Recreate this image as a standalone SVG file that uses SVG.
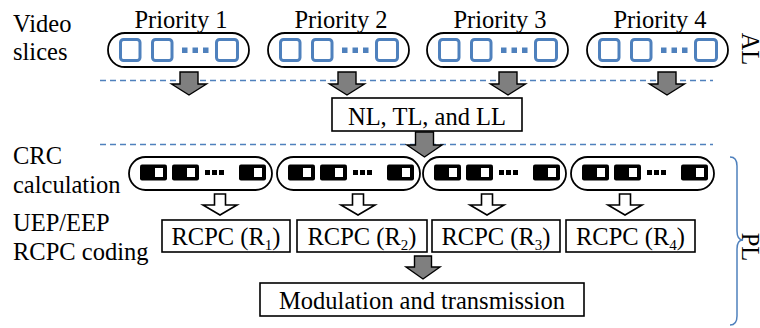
<svg xmlns="http://www.w3.org/2000/svg" width="760" height="328" viewBox="0 0 760 328" font-family="Liberation Serif, Times New Roman, serif" font-size="24.5">
<defs>
<style>
text{font-family:'Liberation Serif','Times New Roman',serif;font-size:24.5px;fill:#000}
.c{text-anchor:middle}
.cap{fill:#fff;stroke:#000;stroke-width:1.8}
.bsq{fill:none;stroke:#4f81bd;stroke-width:3}
.bdot{fill:#4f81bd}
.box{fill:#fff;stroke:#000;stroke-width:1.6}
.dash{stroke:#4f81bd;stroke-width:1.4;stroke-dasharray:6 4;fill:none}
.garrow{fill:#7f7f7f;stroke:#000;stroke-width:1.4;stroke-linejoin:miter}
.warrow{fill:#fff;stroke:#000;stroke-width:1.6}
.blk{fill:#000}
.win{fill:#fff}
.brace{fill:none;stroke:#4f81bd;stroke-width:1.5}
.sub{font-size:15px}
</style>
<g id="slice">
<rect class="cap" x="0" y="0" width="141" height="34" rx="17"/>
<rect class="bsq" x="12.5" y="6.5" width="19.5" height="21" rx="3"/>
<rect class="bsq" x="44.5" y="6.5" width="19.5" height="21" rx="3"/>
<rect class="bdot" x="74" y="14.5" width="5.5" height="5.5"/>
<rect class="bdot" x="84.5" y="14.5" width="5.5" height="5.5"/>
<rect class="bdot" x="95" y="14.5" width="5.5" height="5.5"/>
<rect class="bsq" x="108.5" y="6.5" width="21" height="21" rx="3"/>
</g>
<g id="crc">
<rect class="cap" x="0" y="0" width="143" height="33" rx="16.5"/>
<rect class="blk" x="11" y="7.5" width="27" height="16" rx="2"/>
<rect class="win" x="26" y="11" width="8" height="9"/>
<rect class="blk" x="43" y="7.5" width="27" height="16" rx="2"/>
<rect class="win" x="58" y="11" width="8" height="9"/>
<rect class="blk" x="76" y="13" width="5" height="5"/>
<rect class="blk" x="83" y="13" width="5" height="5"/>
<rect class="blk" x="90" y="13" width="5" height="5"/>
<rect class="blk" x="110" y="7.5" width="27" height="16" rx="2"/>
<rect class="win" x="125" y="11" width="8" height="9"/>
</g>
</defs>

<g id="labels">
<text x="13" y="32">Video</text>
<text x="13" y="60">slices</text>
<text x="13" y="164">CRC</text>
<text x="13" y="193">calculation</text>
<text x="13" y="231">UEP/EEP</text>
<text x="13" y="260">RCPC coding</text>
<text class="c" text-anchor="middle" transform="translate(742,49) rotate(90)">AL</text>
<text class="c" text-anchor="middle" transform="translate(742,247) rotate(90)">PL</text>
</g>

<g id="connectors">
<line class="dash" x1="100" y1="80.5" x2="713" y2="80.5"/>
<line class="dash" x1="100" y1="144.5" x2="713" y2="144.5"/>
<path class="garrow" d="M180,72 h18 v12 h8.5 L189,95 L171.5,84 h8.5 z"/>
<path class="garrow" d="M338,72 h18 v12 h8.5 L347,95 L329.5,84 h8.5 z"/>
<path class="garrow" d="M499,72 h18 v12 h8.5 L508,95 L490.5,84 h8.5 z"/>
<path class="garrow" d="M658,72 h18 v12 h8.5 L667,95 L649.5,84 h8.5 z"/>
<path class="garrow" d="M415.5,132 h18 v13 h8.5 L424.5,157 L407,145 h8.5 z"/>
<path class="warrow" d="M214.5,194 h11 v11 h11.5 L220,215 L203,205 h11.5 z"/>
<path class="warrow" d="M352.5,194 h11 v11 h11.5 L358,215 L341,205 h11.5 z"/>
<path class="warrow" d="M481.5,194 h11 v11 h11.5 L487,215 L470,205 h11.5 z"/>
<path class="warrow" d="M619.5,194 h11 v11 h11.5 L625,215 L608,205 h11.5 z"/>
<path class="garrow" d="M414.5,256 h17 v11 h8.5 L423,279 L406,267 h8.5 z"/>
<path class="brace" d="M730,157 Q737,157 737,166 L737,231 Q737,240 743,240 Q737,240 737,249 L737,316 Q737,325 730,325"/>
</g>

<g id="priority1"><use href="#slice" x="108" y="33"/><text class="c" text-anchor="middle" x="181" y="28">Priority 1</text></g>
<g id="priority2"><use href="#slice" x="268" y="33"/><text class="c" text-anchor="middle" x="341" y="28">Priority 2</text></g>
<g id="priority3"><use href="#slice" x="427" y="33"/><text class="c" text-anchor="middle" x="500" y="28">Priority 3</text></g>
<g id="priority4"><use href="#slice" x="587" y="33"/><text class="c" text-anchor="middle" x="660" y="28">Priority 4</text></g>

<g id="nltlll"><rect class="box" x="332" y="98" width="190" height="33"/><text class="c" text-anchor="middle" x="427" y="125">NL, TL, and LL</text></g>

<g id="crc1"><use href="#crc" x="129" y="157"/></g>
<g id="crc2"><use href="#crc" x="277" y="157"/></g>
<g id="crc3"><use href="#crc" x="423" y="157"/></g>
<g id="crc4"><use href="#crc" x="571" y="157"/></g>

<g id="rcpc1"><rect class="box" x="162" y="220" width="128" height="32"/><text class="c" text-anchor="middle" x="226" y="245">RCPC (R<tspan class="sub" font-size="15" dy="5">1</tspan><tspan dy="-5">)</tspan></text></g>
<g id="rcpc2"><rect class="box" x="297" y="220" width="130" height="32"/><text class="c" text-anchor="middle" x="362" y="245">RCPC (R<tspan class="sub" font-size="15" dy="5">2</tspan><tspan dy="-5">)</tspan></text></g>
<g id="rcpc3"><rect class="box" x="432" y="220" width="128" height="32"/><text class="c" text-anchor="middle" x="496" y="245">RCPC (R<tspan class="sub" font-size="15" dy="5">3</tspan><tspan dy="-5">)</tspan></text></g>
<g id="rcpc4"><rect class="box" x="566" y="220" width="129" height="32"/><text class="c" text-anchor="middle" x="630.5" y="245">RCPC (R<tspan class="sub" font-size="15" dy="5">4</tspan><tspan dy="-5">)</tspan></text></g>

<g id="modulation"><rect class="box" x="260" y="283" width="324" height="33"/><text class="c" text-anchor="middle" x="422" y="309">Modulation and transmission</text></g>
</svg>
